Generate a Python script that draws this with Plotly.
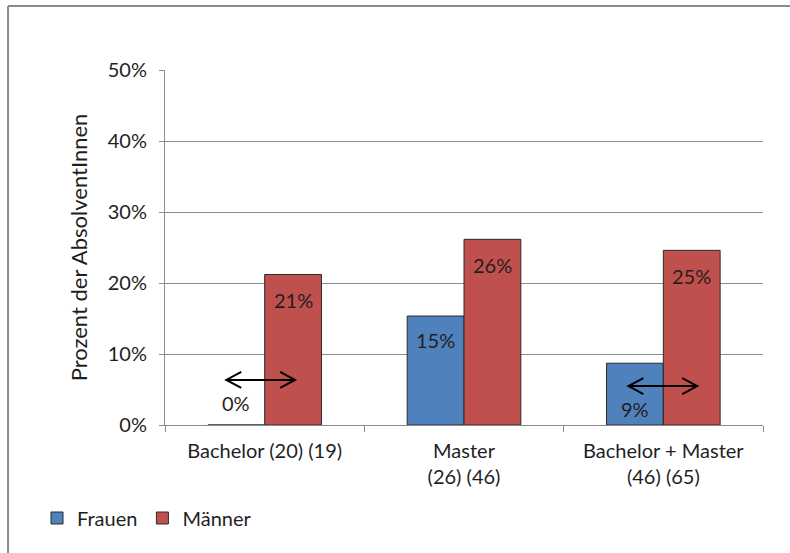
import plotly.graph_objects as go

# Categories (with group sizes: women, men)
categories = ["Bachelor (20) (19)", "Master<br>(26) (46)", "Bachelor + Master<br>(46) (65)"]
frauen = [0.0, 15.35, 8.7]
maenner = [21.2, 26.15, 24.6]
series_names = ["Frauen", "Männer"]

BLUE = "#4F81BD"
RED = "#C0504D"
GRID = "#8C8C8C"
TEXT = "#1F1F1F"
FONT = "Lato"
FS = 20

fig = go.Figure()
fig.add_trace(go.Bar(x=categories, y=frauen, name=series_names[0],
                     marker=dict(color=BLUE, line=dict(color="#2B2B2B", width=1))))
fig.add_trace(go.Bar(x=categories, y=maenner, name=series_names[1],
                     marker=dict(color=RED, line=dict(color="#2B2B2B", width=1))))

# value labels: (series values, bar offset within group, vertical pixel shift, anchored at top or base)
label_specs = [
    (frauen, -0.1425, [22, -24, 16], ["base", "top", "base"]),
    (maenner, 0.1425, [-26, -26, -26], ["top", "top", "top"]),
]
for vals, off, shifts, anchors in label_specs:
    for i, v in enumerate(vals):
        fig.add_annotation(x=i + off, y=(0 if anchors[i] == "base" else v),
                           xref="x", yref="y", text=f"{round(v)}%", showarrow=False,
                           yshift=shifts[i], font=dict(family=FONT, size=FS, color=TEXT))

# double-headed arrows (category index, left/right offsets, height in %)
arrows = [(0, -0.1925, 0.1525, 6.34), (2, -0.175, 0.17, 5.49)]
hx = 15 / 200.0      # head length in category units
hy = 8 * 50 / 355.0  # head half-height in % units
for ci, lo, hi, yv in arrows:
    x0, x1 = ci + lo, ci + hi
    path = (f"M {x0},{yv} L {x1},{yv} "
            f"M {x0 + hx},{yv + hy} L {x0},{yv} L {x0 + hx},{yv - hy} "
            f"M {x1 - hx},{yv + hy} L {x1},{yv} L {x1 - hx},{yv - hy}")
    fig.add_shape(type="path", path=path, xref="x", yref="y",
                  line=dict(color="black", width=2))

# outer frame lines (left and top)
fig.add_shape(type="line", xref="paper", yref="paper", x0=-0.2625, x1=-0.2625,
              y0=1.18, y1=-0.37, line=dict(color="#8A8A8A", width=2))
fig.add_shape(type="line", xref="paper", yref="paper", x0=-0.2625, x1=1.05,
              y0=1.18, y1=1.18, line=dict(color="#8A8A8A", width=2))

fig.update_layout(
    width=790, height=553,
    margin=dict(l=165, r=27, t=70, b=128),
    paper_bgcolor="white", plot_bgcolor="white",
    barmode="group", bargap=0.43, bargroupgap=0,
    font=dict(family=FONT, size=FS, color=TEXT),
    showlegend=True,
    legend=dict(orientation="h", x=-0.214, xanchor="left", y=-0.262, yanchor="middle",
                font=dict(family=FONT, size=FS, color=TEXT), bgcolor="rgba(0,0,0,0)",
                itemclick=False, traceorder="normal"),
    xaxis=dict(type="category", range=[-0.5, 2.5], showline=True, linecolor=GRID,
               linewidth=1, ticks="outside", tickson="boundaries", ticklen=6,
               tickcolor=GRID, showgrid=False, ticklabelstandoff=8,
               tickfont=dict(family=FONT, size=FS, color=TEXT)),
    yaxis=dict(range=[0, 50], dtick=10, ticksuffix="%", showline=True, linecolor=GRID,
               linewidth=1, ticks="outside", ticklen=5, tickcolor=GRID,
               showgrid=True, gridcolor=GRID, gridwidth=1, zeroline=False,
               ticklabelstandoff=8,
               tickfont=dict(family=FONT, size=FS, color=TEXT),
               title=dict(text="Prozent der AbsolventInnen", standoff=14,
                          font=dict(family=FONT, size=22, color=TEXT))),
)

fig.write_html("out.html")
